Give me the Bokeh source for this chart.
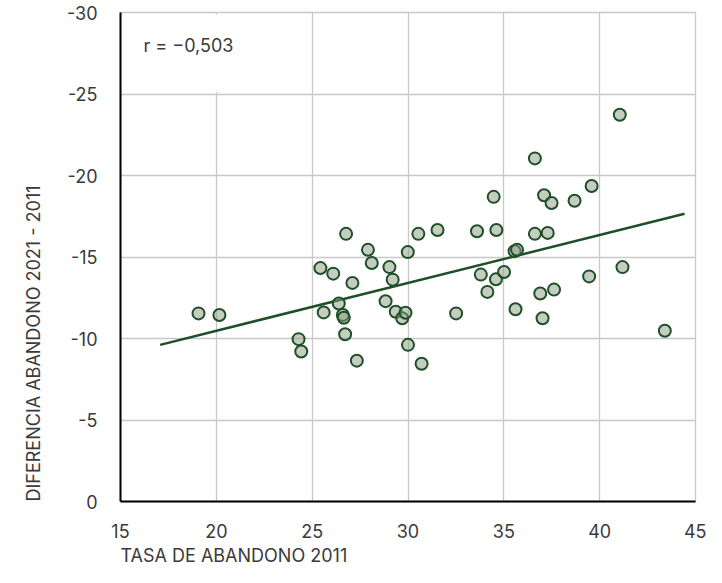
from bokeh.plotting import figure
from bokeh.models import Range1d, FixedTicker, Label, BoxAnnotation, Title
from bokeh.embed import file_html
from bokeh.resources import INLINE

# Data
tasa_2011 = [19.07, 20.16, 24.29, 24.43, 25.43, 25.60, 26.10, 26.39, 26.60, 26.65,
             26.72, 26.77, 27.10, 27.33, 27.91, 28.11, 28.83, 29.03, 29.20, 29.36,
             29.70, 29.87, 29.99, 30.00, 30.54, 30.71, 31.54, 32.51, 33.60, 33.80,
             34.14, 34.47, 34.61, 34.59, 35.01, 35.56, 35.69, 35.61, 36.62, 36.62,
             36.90, 37.02, 37.10, 37.29, 37.49, 37.62, 38.69, 39.45, 39.58, 41.05,
             41.19, 43.40]
diferencia = [-11.54, -11.44, -9.96, -9.20, -14.32, -11.60, -13.98, -12.15, -11.44, -11.27,
              -10.26, -16.42, -13.41, -8.64, -15.44, -14.63, -12.29, -14.38, -13.61, -11.64,
              -11.24, -11.58, -15.30, -9.61, -16.42, -8.45, -16.66, -11.54, -16.58, -13.92,
              -12.86, -18.69, -16.66, -13.63, -14.08, -15.36, -15.44, -11.79, -21.05, -16.42,
              -12.76, -11.24, -18.79, -16.48, -18.31, -13.00, -18.45, -13.81, -19.36, -23.73,
              -14.38, -10.48]

trend_x = [17.07, 44.43]
trend_y = [-9.61, -17.65]

x_ticks = [15, 20, 25, 30, 35, 40, 45]
x_tick_labels = ["15", "20", "25", "30", "35", "40", "45"]
y_ticks = [0, -5, -10, -15, -20, -25, -30]
y_tick_labels = ["0", "-5", "-10", "-15", "-20", "-25", "-30"]

r_text = "r = \u22120,503"
x_title = "TASA DE ABANDONO 2011"
y_title = "DIFERENCIA ABANDONO 2021 - 2011"

FONT = "Inter"
TEXT_COLOR = "#3a3a3a"
GRID_COLOR = "#c8c8c8"
DARK_GREEN = "#1e4f27"

p = figure(width=706, height=567, output_backend="svg", toolbar_location=None,
           x_range=Range1d(15, 45), y_range=Range1d(0, -30))
p.min_border_top = 12
p.min_border_left = 114
p.min_border_right = 11
p.min_border_bottom = 0
p.outline_line_color = GRID_COLOR
p.outline_line_width = 1.3
p.background_fill_color = "white"
p.border_fill_color = "white"

# axes
for ax in (p.xaxis[0], p.yaxis[0]):
    ax.axis_line_color = "black"
    ax.axis_line_width = 2
    ax.major_tick_line_color = None
    ax.minor_tick_line_color = None
    ax.major_label_text_font = FONT
    ax.major_label_text_font_size = "18px"
    ax.major_label_text_color = TEXT_COLOR

p.xaxis.ticker = FixedTicker(ticks=x_ticks)
p.xaxis.major_label_overrides = {t: l for t, l in zip(x_ticks, x_tick_labels)}
p.yaxis.ticker = FixedTicker(ticks=y_ticks)
p.yaxis.major_label_overrides = {t: l for t, l in zip(y_ticks, y_tick_labels)}
p.xaxis.major_label_standoff = 16
p.yaxis.major_label_standoff = 17

p.xgrid.ticker = FixedTicker(ticks=x_ticks)
p.ygrid.ticker = FixedTicker(ticks=y_ticks)
p.xgrid.grid_line_color = GRID_COLOR
p.ygrid.grid_line_color = GRID_COLOR
p.xgrid.grid_line_width = 1.3
p.ygrid.grid_line_width = 1.3

# white box behind the correlation label
p.add_layout(BoxAnnotation(left=15.05, right=22.6, top=-29.88, bottom=-25.12,
                           fill_color="white", fill_alpha=1.0, line_alpha=0,
                           level="underlay"))

p.line(trend_x, trend_y, line_color=DARK_GREEN, line_width=2.5)
p.scatter(tasa_2011, diferencia, size=12, fill_color="#8c9c84", fill_alpha=0.5,
          line_color=DARK_GREEN, line_width=2)

p.add_layout(Label(x=16.2, y=-27.95, text=r_text, text_font=FONT,
                   text_font_size="18px", text_color=TEXT_COLOR,
                   text_baseline="middle", text_align="left"))

# axis titles, left-aligned to the plot frame as in the reference
xt = Title(text=x_title, align="left", text_font=FONT, text_font_size="18px",
           text_font_style="normal", text_color=TEXT_COLOR)
yt = Title(text=y_title, align="left", text_font=FONT, text_font_size="18px",
           text_font_style="normal", text_color=TEXT_COLOR)
try:
    xt.standoff = 4
    yt.standoff = 40
except Exception:
    pass
p.add_layout(xt, "below")
p.add_layout(yt, "left")

open("out.html", "w").write(file_html(p, INLINE))
